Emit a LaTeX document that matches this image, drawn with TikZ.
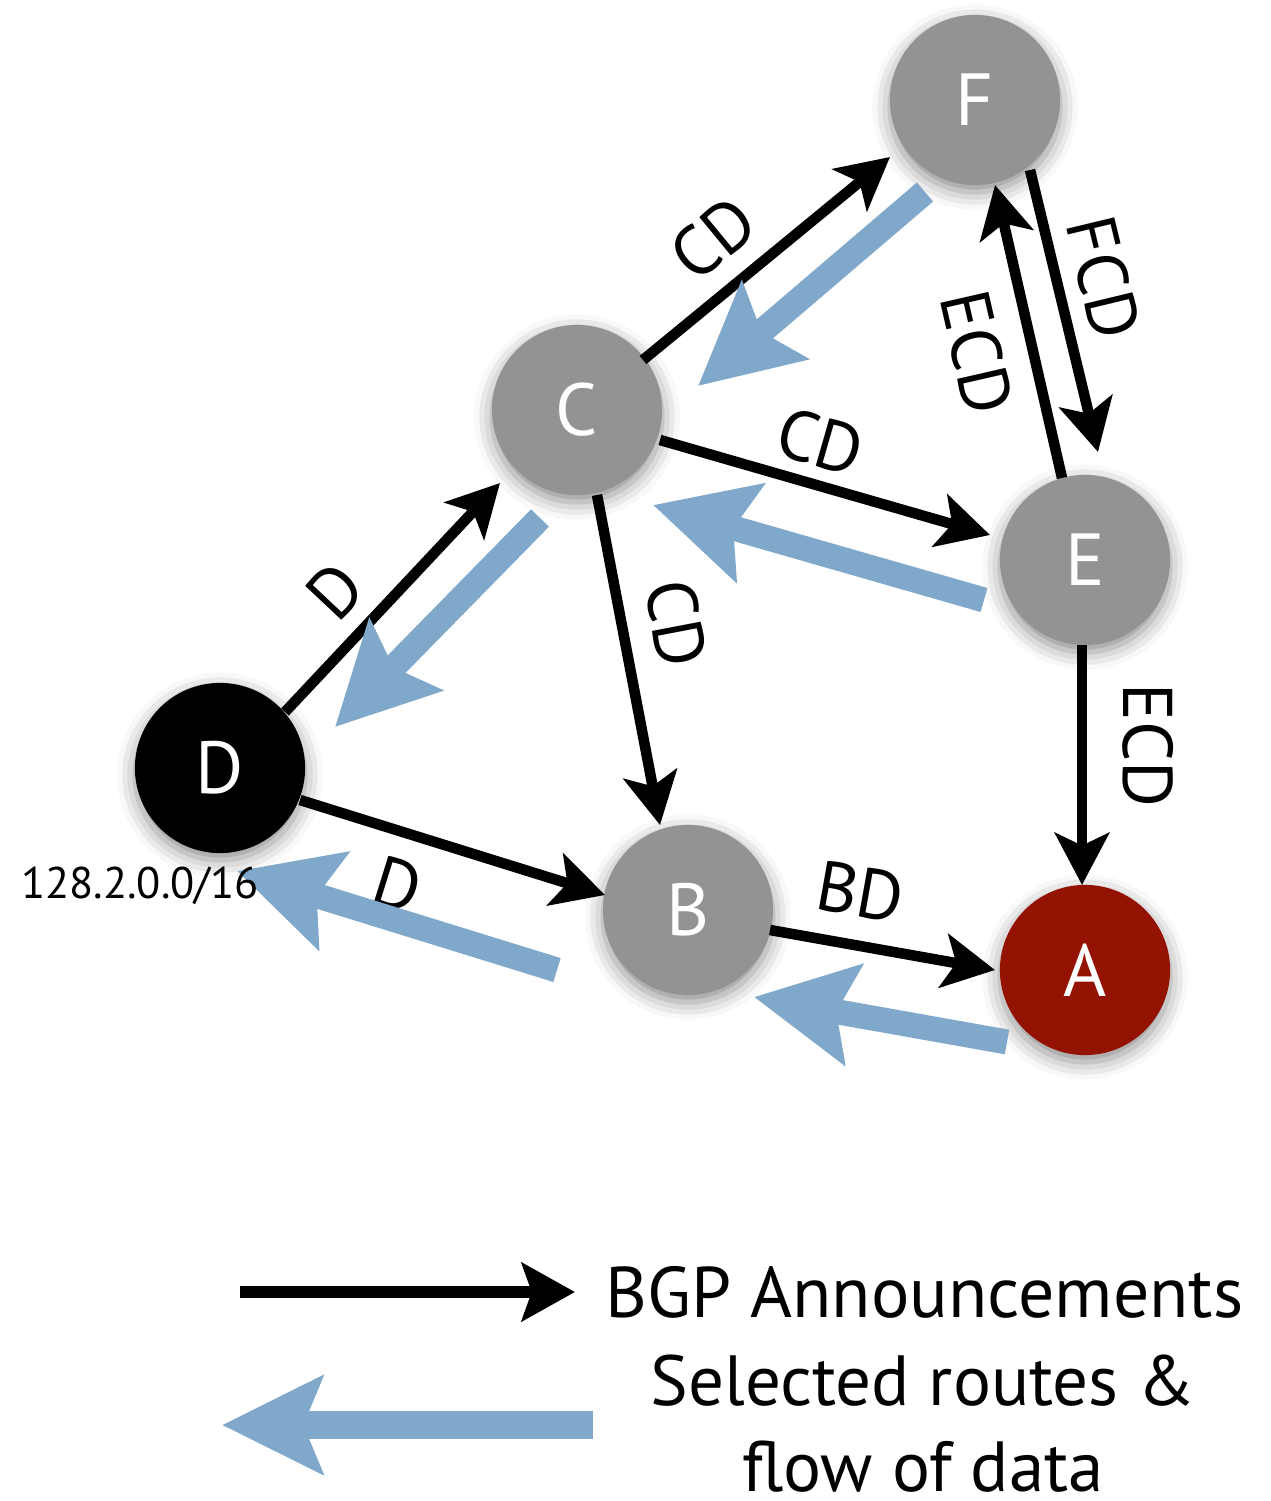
\documentclass[tikz,border=0pt]{standalone}
\usepackage{fontspec}
\setmainfont{PT Sans}
\usetikzlibrary{arrows.meta, shadows.blur, calc}
% one pixel of the reference is about 0.2845pt
\definecolor{asgray}{RGB}{147,147,147}
\definecolor{asred}{RGB}{148,18,0}
\definecolor{routeblue}{RGB}{127,168,203}
\tikzset{
        as/.style={circle, minimum size=48.4pt, inner sep=0pt, fill=asgray, text=white,
          font=\fontsize{21}{21}\selectfont,
          blur shadow={shadow xshift=0pt, shadow yshift=-2pt, shadow blur radius=5pt, shadow opacity=45}}, % every AS
        announce/.style={draw, line width=3pt, -{Stealth[length=14.8pt, width=15.4pt, inset=3.6pt]}}, % BGP announcement
        datapath/.style={draw, color=routeblue, line width=7.1pt, -{Stealth[length=28.5pt, width=28.5pt, inset=4.8pt]}}, % selected route
        lbl/.style={sloped, inner sep=0.6pt, text=black, font=\fontsize{20}{20}\selectfont}, % path labels
    }

\begin{document}
\begin{tikzpicture}[x=0.01cm, y=-0.01cm]
    \useasboundingbox (0,0) rectangle (1271,1501);
    \node[as] (F) at (975,100) {F};
    \node[as] (C) at (577,410) {C};
    \node[as] (E) at (1085,560) {E};
    \node[as, fill=black] (D) at (220,768) {D};
    \node[as] (B) at (688,910) {B};
    \node[as, fill=asred] (A) at (1085,970) {A};

    % announcements
    \path
      ($(D)+(65,-56)$) edge[announce] node[lbl, pos=.39, above=3.8pt] {D} ($(C)+(-77,73)$)
      ($(C)+(66,-50)$) edge[announce] node[lbl, pos=.41, above=4.8pt] {CD} ($(F)+(-85,57)$)
      ($(C)+(83,30)$) edge[announce] node[lbl, pos=.45, above=2.8pt] {CD} ($(E)+(-95,-25)$)
      ($(C)+(20,85)$) edge[announce] node[lbl, pos=.42, above=6pt] {CD} ($(B)+(-28,-85)$)
      ($(D)+(80,32)$) edge[announce] node[lbl, pos=.37, below=5.5pt] {D} ($(B)+(-83,-15)$)
      ($(B)+(82,20)$) edge[announce] node[lbl, pos=.36, above=6pt] {BD} ($(A)+(-90,0)$)
      ($(F)+(55,70)$) edge[announce] node[lbl, pos=.42, above=3.8pt] {FCD} ($(E)+(13,-108)$)
      ($(E)+(-23,-82)$) edge[announce] node[lbl, pos=.47, below=6.3pt] {ECD} ($(F)+(20,85)$)
      ($(E)+(-3,85)$) edge[announce] node[lbl, pos=.42, above=9.5pt] {ECD} ($(A)+(-3,-85)$);

    % selected routes
    \path
      ($(F)+(-50,92)$) edge[datapath] ($(C)+(121,-24)$)
      ($(C)+(-37,108)$) edge[datapath] ($(D)+(115,-41)$)
      ($(E)+(-101,40)$) edge[datapath] ($(C)+(76,95)$)
      ($(B)+(-131,60)$) edge[datapath] ($(D)+(17,103)$)
      ($(A)+(-78,72)$) edge[datapath] ($(B)+(66,87)$);

    \node[font=\fontsize{12.6}{13}\selectfont, inner sep=0pt] (prefix) at (140,886) {128.2.0.0/16};

    % legend
    \coordinate (bgpfrom) at (240,1292);
    \coordinate (bgpto) at (575,1292);
    \draw[line width=3.4pt, -{Stealth[length=15.1pt, width=16.5pt, inset=2.8pt]}] (bgpfrom) -- (bgpto);
    \node[anchor=base west, inner sep=0pt, font=\fontsize{20.4}{25}\selectfont] (bgptext) at (605,1317) {BGP Announcements};
    \coordinate (selfrom) at (593,1425);
    \coordinate (selto) at (222,1425);
    \draw[color=routeblue, line width=8pt, -{Stealth[length=28.5pt, width=27.6pt, inset=5.4pt]}] (selfrom) -- (selto);
    \node[align=center, inner sep=0pt, font=\fontsize{20.2}{24.5}\selectfont] (seltext) at (923,1424) {Selected routes \&\\flow of data};
\end{tikzpicture}
\end{document}
